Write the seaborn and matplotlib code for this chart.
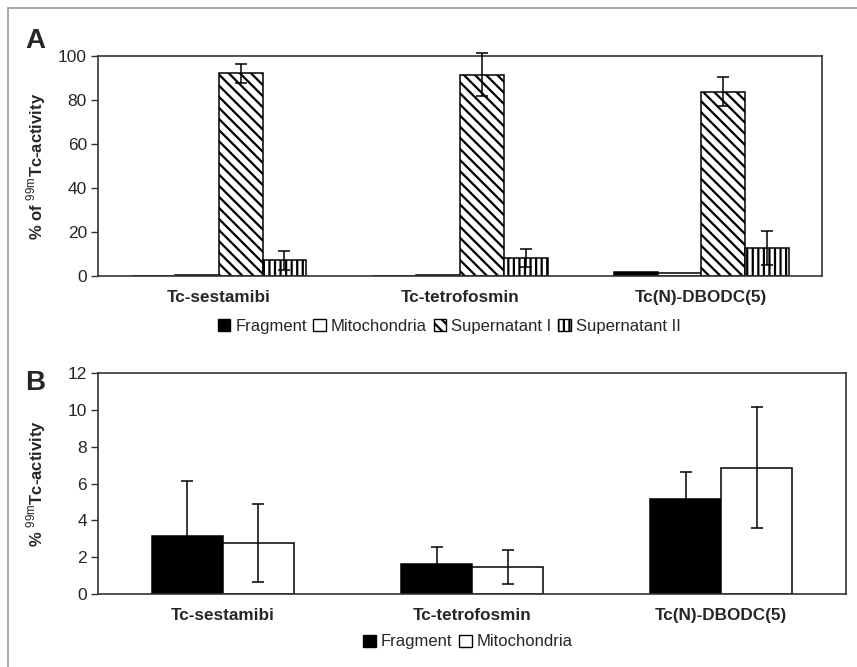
import matplotlib
matplotlib.use("Agg")
import matplotlib.pyplot as plt
import matplotlib.transforms as mtransforms
import seaborn as sns
import pandas as pd
import numpy as np
from matplotlib.lines import Line2D
from matplotlib.patches import Patch

# ---------------- data ----------------
categories = ["Tc-sestamibi", "Tc-tetrofosmin", "Tc(N)-DBODC(5)"]

a_series = ["Fragment", "Mitochondria", "Supernatant I", "Supernatant II"]
a_fragment = [0.0, 0.0, 1.8]
a_mito = [0.3, 0.3, 1.4]
a_sup1 = [92.1, 91.5, 83.8]
a_sup2 = [7.1, 8.0, 12.9]
a_fragment_err = [0.0, 0.0, 0.0]
a_mito_err = [0.0, 0.0, 0.0]
a_sup1_err = [4.4, 9.7, 6.7]
a_sup2_err = [4.4, 4.1, 7.7]

b_series = ["Fragment", "Mitochondria"]
b_fragment = [3.15, 1.63, 5.16]
b_mito = [2.77, 1.47, 6.86]
b_fragment_err = [3.0, 0.92, 1.48]
b_mito_err = [2.1, 0.93, 3.3]

a_yticks = [0, 20, 40, 60, 80, 100]
b_yticks = [0, 2, 4, 6, 8, 10, 12]

# ---------------- style ----------------
sns.set_theme(style="white")
plt.rcParams["font.family"] = ["Liberation Sans", "DejaVu Sans"]
plt.rcParams["mathtext.fontset"] = "custom"
plt.rcParams["mathtext.rm"] = "Liberation Sans"
plt.rcParams["hatch.linewidth"] = 1.6
plt.rcParams["hatch.color"] = "black"

fig = plt.figure(figsize=(8.57, 6.67), dpi=100)
axA = fig.add_axes([0.1144, 0.5862, 0.8448, 0.3298])
axB = fig.add_axes([0.1144, 0.1094, 0.8728, 0.3314])

dfA = pd.DataFrame({
    "cat": categories * 4,
    "series": sum([[s] * 3 for s in a_series], []),
    "val": a_fragment + a_mito + a_sup1 + a_sup2,
})
errA = [a_fragment_err, a_mito_err, a_sup1_err, a_sup2_err]
dfB = pd.DataFrame({
    "cat": categories * 2,
    "series": sum([[s] * 3 for s in b_series], []),
    "val": b_fragment + b_mito,
})
errB = [b_fragment_err, b_mito_err]

faces = {"Fragment": "black", "Mitochondria": "white",
         "Supernatant I": "white", "Supernatant II": "white"}
hatches = {"Fragment": "", "Mitochondria": "",
           "Supernatant I": "\\\\\\", "Supernatant II": "|||"}

def draw(ax, df, series, errs, width, ylim, yticks, ylabel):
    sns.barplot(data=df, x="cat", y="val", hue="series", order=categories,
                hue_order=series, palette=[faces[s] for s in series],
                width=width, gap=0, edgecolor="black", linewidth=1.1,
                errorbar=None, legend=False, ax=ax, saturation=1)
    for cont, s, e in zip(ax.containers, series, errs):
        xs, ys = [], []
        for p in cont.patches:
            p.set_hatch(hatches[s])
            p.set_edgecolor("black")
            xs.append(p.get_x() + p.get_width() / 2)
            ys.append(p.get_height())
        e = np.asarray(e)
        if np.any(e > 0):
            eb = ax.errorbar(xs, ys, yerr=e, fmt="none", ecolor="black",
                             elinewidth=1.1, capsize=4, capthick=1.1, zorder=5)
            for art in list(eb.lines[1]) + list(eb.lines[2]):
                art.set_clip_on(False)
    ax.set_xlim(-0.5, 2.5)
    ax.set_ylim(*ylim)
    ax.set_yticks(yticks)
    ax.set_yticklabels([str(t) for t in yticks], fontsize=12.5)
    ax.set_xticks(range(len(categories)))
    ax.set_xticklabels(categories, fontsize=12.3, fontweight="bold")
    ax.set_xticks([-0.5, 0.5, 1.5, 2.5], minor=True)
    ax.tick_params(axis="x", which="major", length=0, pad=10)
    ax.tick_params(axis="x", which="minor", length=5, width=1, color="#333",
                   direction="out")
    ax.tick_params(axis="y", length=5, width=1, color="#333", direction="out",
                   left=True, pad=3)
    ax.set_xlabel("")
    ax.set_ylabel(ylabel, fontsize=12, fontweight="bold")
    tr = mtransforms.blended_transform_factory(fig.transFigure, ax.transAxes)
    ax.yaxis.set_label_coords(48 / 857, 0.5, transform=tr)
    for sp in ax.spines.values():
        sp.set_visible(True)
        sp.set_color("#333333")
        sp.set_linewidth(1.2)

draw(axA, dfA, a_series, errA, 0.727, (0, 100), a_yticks,
     r"% of $^{\mathrm{99m}}$Tc-activity")
draw(axB, dfB, b_series, errB, 0.57, (0, 12), b_yticks,
     r"% $^{\mathrm{99m}}$Tc-activity")

def handles(series):
    return [Patch(facecolor=faces[s], edgecolor="black", hatch=hatches[s],
                  linewidth=1.0, label=s) for s in series]

fig.legend(handles=handles(a_series), loc="center", ncol=4,
           bbox_to_anchor=(0.524, 0.511), frameon=False, fontsize=12,
           handlelength=0.75, handleheight=0.75, handletextpad=0.3,
           columnspacing=0.4, borderpad=0)
fig.legend(handles=handles(b_series), loc="center", ncol=2,
           bbox_to_anchor=(0.546, 0.0375), frameon=False, fontsize=12,
           handlelength=0.75, handleheight=0.75, handletextpad=0.3,
           columnspacing=0.4, borderpad=0)

fig.text(0.030, 1 - 48 / 667, "A", fontsize=20, fontweight="bold",
         va="baseline")
fig.text(0.029, 1 - 390 / 667, "B", fontsize=20, fontweight="bold",
         va="baseline")

fig.add_artist(Line2D([8 / 857, 1], [1 - 8 / 667, 1 - 8 / 667],
                      color="#999999", lw=1.2, transform=fig.transFigure))
fig.add_artist(Line2D([8 / 857, 8 / 857], [0, 1 - 8 / 667],
                      color="#999999", lw=1.2, transform=fig.transFigure))

fig.savefig("out.png", dpi=100)
